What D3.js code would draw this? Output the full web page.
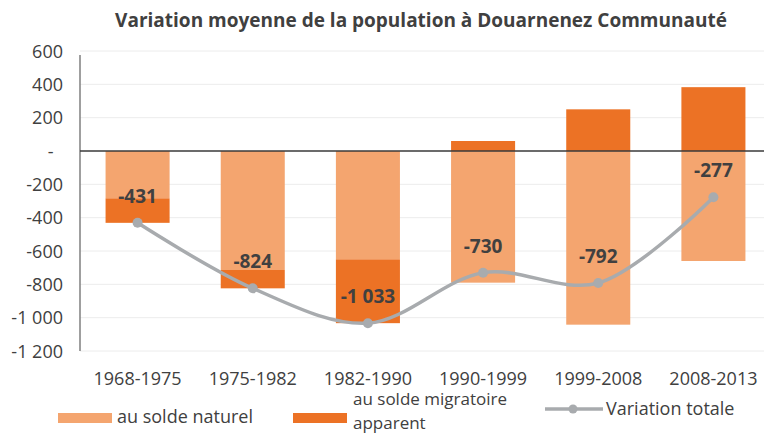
<!DOCTYPE html>
<html>
<head>
<meta charset="utf-8">
<script src="https://cdn.jsdelivr.net/npm/d3@7"></script>
<style>
  body { margin: 0; background: #fff; }
  text { font-family: "Open Sans", sans-serif; fill: #404040; }
</style>
</head>
<body>
<div id="chart"></div>
<script>
// data
const periods = ['1968-1975', '1975-1982', '1982-1990', '1990-1999', '1999-2008', '2008-2013'];
const soldeNaturel = [-284, -714, -650, -790, -1042, -660];
const soldeMigratoire = [-147, -110, -383, 60, 250, 383];
const variationTotale = [-431, -824, -1033, -730, -792, -277];
const yTicks = [600, 400, 200, 0, -200, -400, -600, -800, -1000, -1200];

const seriesKeys = ['naturel', 'migratoire'];
const seriesLabels = ['au solde naturel', 'au solde migratoire apparent', 'Variation totale'];

const COLOR_NATUREL = '#f4a56f';
const COLOR_MIGRATOIRE = '#ec7225';
const COLOR_LINE = '#a8abae';

const width = 764;
const height = 434;
const margin = { left: 80, right: -7, top: 51, bottom: 83 };

// french style numbers: space as thousands separator, plain hyphen
const locale = d3.formatLocale({ decimal: ',', thousands: ' ', grouping: [3], currency: ['', ' €'], minus: '-' });
const num = locale.format(',');

const svg = d3.select('#chart')
  .append('svg')
  .attr('width', width)
  .attr('height', height);

// scales
const x = d3.scaleBand()
  .domain(periods)
  .range([margin.left, width - margin.right])
  .paddingInner(0.444)
  .paddingOuter(0.222);

const y = d3.scaleLinear()
  .domain([-1200, 600])
  .range([height - margin.bottom, margin.top]);

// title
svg.append('text')
  .attr('x', 421)
  .attr('y', 27)
  .attr('text-anchor', 'middle')
  .style('font-size', '19px')
  .style('font-weight', 700)
  .text('Variation moyenne de la population à Douarnenez Communauté');

// gridlines
svg.append('g')
  .selectAll('line')
  .data(yTicks.filter(d => d !== 0))
  .join('line')
  .attr('x1', margin.left)
  .attr('x2', width)
  .attr('y1', d => y(d))
  .attr('y2', d => y(d))
  .attr('stroke', '#ececec')
  .attr('stroke-width', 1);

// y axis labels
const fmt = d => d === 0 ? '-\u00a0\u00a0' : num(d);
const yAxis = d3.axisLeft(y)
  .tickValues(yTicks)
  .tickFormat(fmt)
  .tickSize(0)
  .tickPadding(17);

svg.append('g')
  .attr('transform', `translate(${margin.left}, 0)`)
  .call(yAxis)
  .call(g => g.select('.domain').remove())
  .selectAll('text')
  .attr('dy', '0.35em')
  .style('font-size', '18px')
  .style('font-family', '"Open Sans", sans-serif')
  .attr('fill', '#404040');

// stacked bars
const rows = periods.map((p, i) => ({
  period: p,
  naturel: soldeNaturel[i],
  migratoire: soldeMigratoire[i]
}));

const stacked = d3.stack()
  .keys(seriesKeys)
  .offset(d3.stackOffsetDiverging)(rows);

const colors = { naturel: COLOR_NATUREL, migratoire: COLOR_MIGRATOIRE };

svg.append('g')
  .selectAll('g')
  .data(stacked)
  .join('g')
  .attr('fill', d => colors[d.key])
  .selectAll('rect')
  .data(d => d)
  .join('rect')
  .attr('x', d => x(d.data.period))
  .attr('width', x.bandwidth())
  .attr('y', d => y(Math.max(d[0], d[1])))
  .attr('height', d => Math.abs(y(d[0]) - y(d[1])));

// y axis line and zero line
svg.append('line')
  .attr('x1', margin.left)
  .attr('x2', margin.left)
  .attr('y1', y(600) + 4)
  .attr('y2', y(-1200))
  .attr('stroke', '#7f7f7f')
  .attr('stroke-width', 1.5);

svg.append('line')
  .attr('x1', margin.left)
  .attr('x2', width)
  .attr('y1', y(0))
  .attr('y2', y(0))
  .attr('stroke', '#3a3a3a')
  .attr('stroke-width', 1.5);

// x labels
svg.append('g')
  .selectAll('text')
  .data(periods)
  .join('text')
  .attr('x', d => x(d) + x.bandwidth() / 2)
  .attr('y', 385)
  .attr('text-anchor', 'middle')
  .style('font-size', '18px')
  .text(d => d);

// total variation line
const cx = i => x(periods[i]) + x.bandwidth() / 2;
const line = d3.line()
  .x((d, i) => cx(i))
  .y(d => y(d))
  .curve(d3.curveCatmullRom);

svg.append('path')
  .datum(variationTotale)
  .attr('d', line)
  .attr('fill', 'none')
  .attr('stroke', COLOR_LINE)
  .attr('stroke-width', 3.5);

svg.append('g')
  .selectAll('circle')
  .data(variationTotale)
  .join('circle')
  .attr('cx', (d, i) => cx(i))
  .attr('cy', d => y(d))
  .attr('r', 5)
  .attr('fill', COLOR_LINE);

// value labels
svg.append('g')
  .selectAll('text')
  .data(variationTotale)
  .join('text')
  .attr('x', (d, i) => cx(i))
  .attr('y', d => y(d) - 20)
  .attr('text-anchor', 'middle')
  .style('font-size', '19px')
  .style('font-weight', 700)
  .text(d => num(d));

// handmade legend
const legend = svg.append('g');

legend.append('rect')
  .attr('x', 58).attr('y', 413)
  .attr('width', 54).attr('height', 10)
  .attr('fill', COLOR_NATUREL);
legend.append('text')
  .attr('x', 117).attr('y', 423)
  .style('font-size', '18px')
  .text(seriesLabels[0]);

legend.append('rect')
  .attr('x', 293).attr('y', 413)
  .attr('width', 54).attr('height', 10)
  .attr('fill', COLOR_MIGRATOIRE);
const migr = legend.append('text')
  .attr('x', 353).attr('y', 405)
  .style('font-size', '17px');
migr.append('tspan')
  .attr('x', 353)
  .text('au solde migratoire');
migr.append('tspan')
  .attr('x', 353)
  .attr('dy', 24)
  .text('apparent');

legend.append('line')
  .attr('x1', 545).attr('x2', 603)
  .attr('y1', 409).attr('y2', 409)
  .attr('stroke', COLOR_LINE)
  .attr('stroke-width', 3.5);
legend.append('circle')
  .attr('cx', 573).attr('cy', 409)
  .attr('r', 4.5)
  .attr('fill', COLOR_LINE);
legend.append('text')
  .attr('x', 606).attr('y', 415)
  .style('font-size', '18px')
  .text(seriesLabels[2]);
</script>
</body>
</html>
